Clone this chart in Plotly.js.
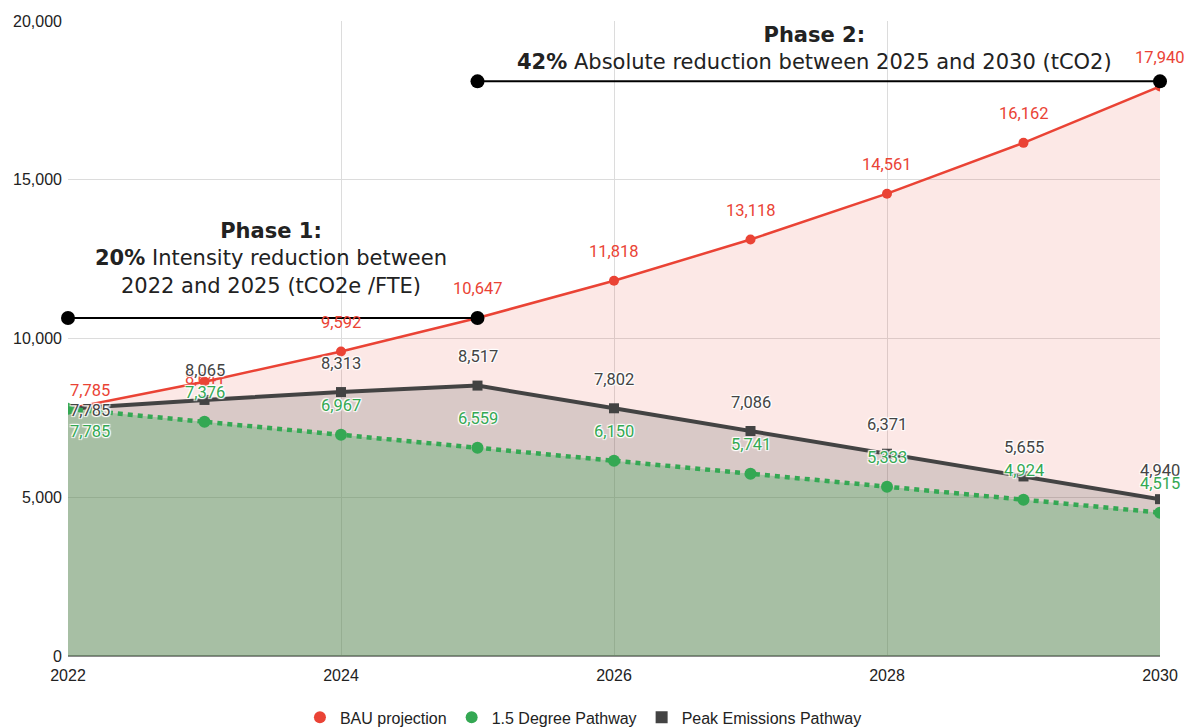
<!DOCTYPE html>
<html>
<head>
<meta charset="utf-8">
<script src="https://cdn.plot.ly/plotly-3.0.1.min.js"></script>
<style>html,body{margin:0;padding:0;background:#fff;}#chart{width:1187px;height:728px;}</style>
</head>
<body>
<div id="chart"></div>
<script>
// ---- data ----
const years = [2022, 2023, 2024, 2025, 2026, 2027, 2028, 2029, 2030];
const bauProjection = [7785, 8641, 9592, 10647, 11818, 13118, 14561, 16162, 17940];
const degreePathway = [7785, 7376, 6967, 6559, 6150, 5741, 5333, 4924, 4515];
const peakPathway = [7785, 8065, 8313, 8517, 7802, 7086, 6371, 5655, 4940];
const xTickVals = [2022, 2024, 2026, 2028, 2030];
const xTickText = ['2022', '2024', '2026', '2028', '2030'];
const yTickVals = [0, 5000, 10000, 15000, 20000];
const yTickText = ['0', '5,000', '10,000', '15,000', '20,000'];
const phase1Years = [2022, 2025];
const phase1Level = [10647, 10647];
const phase2Years = [2025, 2030];
const phase2Level = [18100, 18100];
const seriesNames = ['BAU projection', '1.5 Degree Pathway', 'Peak Emissions Pathway'];

// ---- styles ----
const RED = '#ea4335', GREEN = '#34a853', GRAY = '#434343';
const halo = '1px 1px 1px #fff, -1px -1px 1px #fff, 1px -1px 1px #fff, -1px 1px 1px #fff, 0 0 2px #fff';
const tickFont = {family: 'Liberation Sans, Arial, sans-serif', size: 16, color: '#222'};

const traces = [
  {x: years, y: bauProjection, type: 'scatter', mode: 'lines+markers', fill: 'tozeroy',
   fillcolor: 'rgba(234,67,53,0.12)', line: {color: RED, width: 2.5},
   marker: {color: RED, size: 10, symbol: 'circle'}, showlegend: false, hoverinfo: 'skip'},
  {x: years, y: peakPathway, type: 'scatter', mode: 'lines+markers', fill: 'tozeroy',
   fillcolor: 'rgba(67,67,67,0.19)', line: {color: GRAY, width: 4},
   marker: {color: GRAY, size: 10, symbol: 'square'}, showlegend: false, hoverinfo: 'skip'},
  {x: years, y: degreePathway, type: 'scatter', mode: 'lines+markers', fill: 'tozeroy',
   fillcolor: 'rgba(52,168,83,0.30)', line: {color: GREEN, width: 4.5, dash: '5px,5px'},
   marker: {color: GREEN, size: 12, symbol: 'circle'}, showlegend: false, hoverinfo: 'skip'},
  {x: phase1Years, y: phase1Level, type: 'scatter', mode: 'lines+markers', cliponaxis: false,
   line: {color: '#000', width: 2}, marker: {color: '#000', size: 14}, showlegend: false, hoverinfo: 'skip'},
  {x: phase2Years, y: phase2Level, type: 'scatter', mode: 'lines+markers', cliponaxis: false,
   line: {color: '#000', width: 2}, marker: {color: '#000', size: 14}, showlegend: false, hoverinfo: 'skip'},
  // legend entries
  {x: [null], y: [null], type: 'scatter', mode: 'markers', name: seriesNames[0],
   marker: {color: RED, size: 13, symbol: 'circle'}},
  {x: [null], y: [null], type: 'scatter', mode: 'markers', name: seriesNames[1],
   marker: {color: GREEN, size: 13, symbol: 'circle'}},
  {x: [null], y: [null], type: 'scatter', mode: 'markers', name: seriesNames[2],
   marker: {color: GRAY, size: 10, symbol: 'square'}}
];

const fmt = v => v.toLocaleString('en-US');
const annotations = [];
function addLabels(vals, color, firstShift, useHalo, special) {
  vals.forEach((v, i) => {
    let ys = 29, xa = 'center';
    if (i === 0) { ys = firstShift; xa = 'left'; }
    if (special && special[i] !== undefined) ys = special[i];
    annotations.push({
      x: years[i], y: v, xref: 'x', yref: 'y', text: fmt(v), showarrow: false,
      xanchor: xa, yanchor: 'middle', yshift: ys,
      font: Object.assign({family: 'Roboto, sans-serif', size: 16.5, color: color},
        useHalo ? {shadow: halo} : {})
    });
  });
}
addLabels(bauProjection, RED, 18, false, {1: 3});
addLabels(peakPathway, '#444444', -2, true);
addLabels(degreePathway, GREEN, -23, true);

const phaseFont = {family: 'DejaVu Sans, sans-serif', size: 21, color: '#222'};
annotations.push({
  x: 2023.49, y: 12530, xref: 'x', yref: 'y', showarrow: false, align: 'center',
  xanchor: 'center', yanchor: 'middle', font: phaseFont,
  text: '<b>Phase 1:</b><br><b>20%</b> Intensity reduction between<br>2022 and 2025 (tCO2e /FTE)'
});
annotations.push({
  x: 2027.47, y: 19120, xref: 'x', yref: 'y', showarrow: false, align: 'center',
  xanchor: 'center', yanchor: 'middle', font: phaseFont,
  text: '<b>Phase 2:</b><br><b>42%</b> Absolute reduction between 2025 and 2030 (tCO2)'
});

const layout = {
  width: 1187, height: 728,
  margin: {l: 68, r: 27, t: 21, b: 72, autoexpand: false},
  paper_bgcolor: '#fff', plot_bgcolor: '#fff',
  showlegend: true,
  legend: {orientation: 'h', x: 0.472, xanchor: 'center', y: -0.07, yanchor: 'top',
    font: {family: 'Liberation Sans, Arial, sans-serif', size: 16, color: '#222'},
    itemsizing: 'constant'},
  xaxis: {range: [2022, 2030], tickvals: xTickVals, ticktext: xTickText, showgrid: true,
    gridcolor: '#dcdcdc', zeroline: false, showline: false, ticks: '',
    ticklabelstandoff: 8, tickfont: tickFont, fixedrange: true},
  yaxis: {range: [0, 20000], tickvals: yTickVals, ticktext: yTickText, showgrid: true,
    gridcolor: '#dcdcdc', zeroline: true, zerolinecolor: '#8a8a8a', zerolinewidth: 1.5,
    showline: false, ticks: '', ticklabelstandoff: 5, tickfont: tickFont, fixedrange: true},
  annotations: annotations,
  hovermode: false
};

Plotly.newPlot('chart', traces, layout, {displayModeBar: false, staticPlot: true});
</script>
</body>
</html>
